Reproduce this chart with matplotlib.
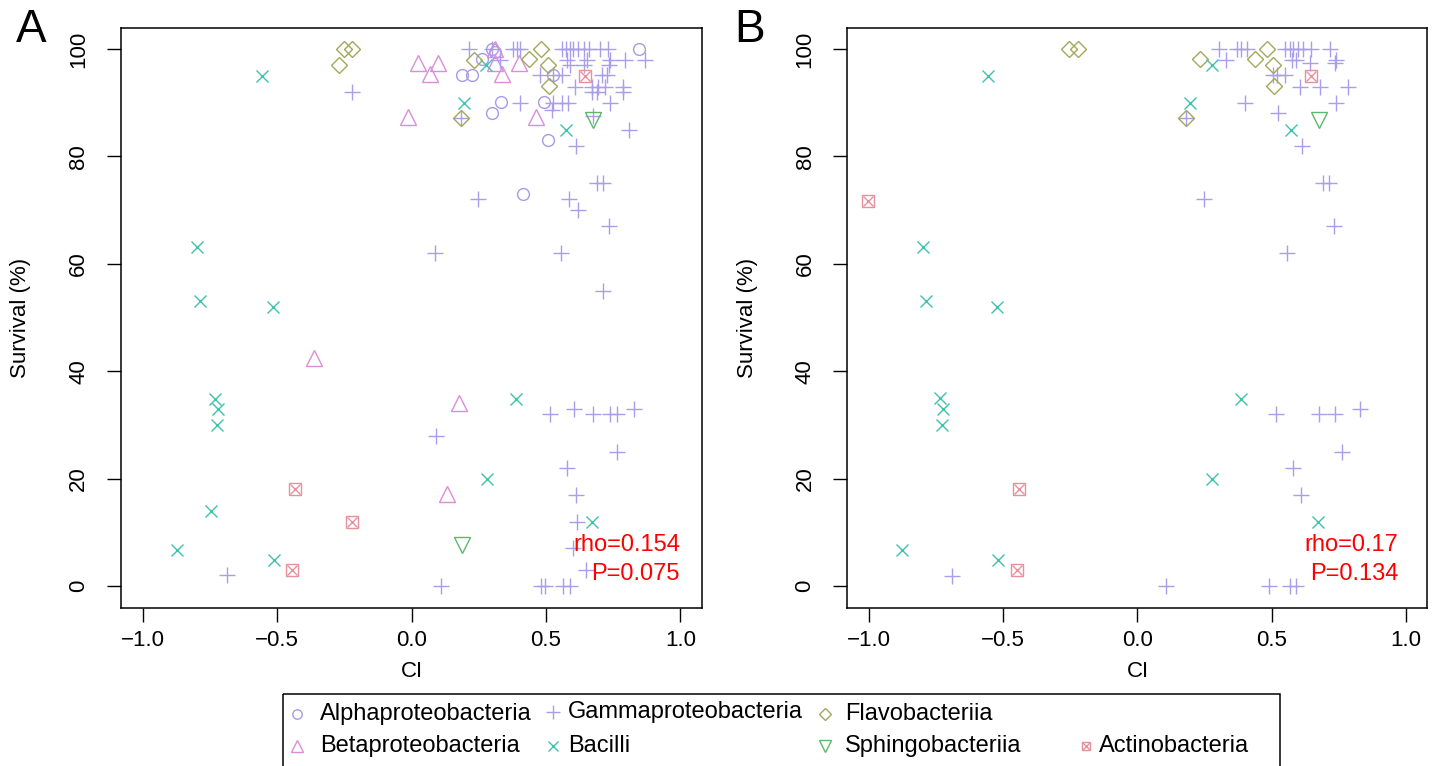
import matplotlib
matplotlib.use("Agg")
import matplotlib.pyplot as plt
from matplotlib.patches import Rectangle

# ======================================================
# data
# ======================================================
# panel A
a_alpha_x = [0.846, 0.30, 0.31, 0.263, 0.187, 0.224, 0.332, 0.30, 0.493, 0.506, 0.527, 0.416]
a_alpha_y = [100, 100, 99.5, 98.1, 95.2, 95.2, 90.2, 88.1, 90.2, 83.0, 95.2, 73.0]

a_beta_x = [0.025, 0.097, 0.069, 0.31, 0.31, 0.335, 0.40, -0.012, 0.463, -0.364, 0.177, 0.131]
a_beta_y = [97.3, 97.3, 95.3, 100, 97.3, 95.3, 97.3, 87.3, 87.3, 42.4, 34.1, 17.2]

a_gamma_x = [0.215, 0.30, 0.376, 0.393, 0.405, 0.56, 0.575, 0.59, 0.60, 0.62, 0.64, 0.66, 0.70, 0.73,
             0.33, 0.577, 0.651, 0.738, 0.794, 0.868,
             0.59, 0.64, 0.735,
             0.478, 0.527, 0.558, 0.707, 0.726,
             0.608, 0.670, 0.694, 0.719, 0.787,
             0.670, 0.688, 0.787, -0.221,
             0.403, 0.527, 0.558, 0.583, 0.738,
             0.521, 0.81, 0.612, 0.183, 0.676,
             0.688, 0.711, 0.246, 0.587, 0.62, 0.733, 0.087, 0.555, 0.713,
             0.605, 0.827, 0.515, 0.676, 0.738, 0.763, 0.091, 0.763, 0.579, 0.610,
             0.614, 0.599, 0.649, 0.108, 0.481, 0.496, 0.562, 0.589, -0.687]
a_gamma_y = [100, 100, 100, 100, 100, 100, 100, 100, 100, 100, 100, 100, 100, 100,
             98, 98, 98, 98, 98, 98,
             97, 97, 97,
             95.2, 95.2, 95.2, 95.2, 95.2,
             93, 93, 93, 93, 93,
             92, 92, 92, 92,
             90, 90, 90, 90, 90,
             88.6, 85, 82, 87.2, 87.5,
             75, 75, 72, 72, 70, 67, 62, 62, 55,
             33, 33, 32, 32, 32, 32, 28, 25, 22, 17,
             12, 7, 3, 0, 0, 0, 0, 0, 2]

a_bacilli_x = [-0.555, 0.277, 0.195, 0.573, -0.799, -0.786, -0.516, -0.730, -0.721, -0.722,
               0.387, 0.28, -0.745, 0.672, -0.873, -0.511]
a_bacilli_y = [95, 97.1, 90, 85, 63.1, 53, 52, 34.9, 32.9, 29.9, 34.9, 19.9, 13.9, 11.9, 6.8, 4.9]

a_flavo_x = [-0.25, -0.22, -0.268, 0.233, 0.438, 0.483, 0.506, 0.511, 0.183]
a_flavo_y = [100, 100, 97.1, 97.9, 98.1, 100, 97.1, 93.1, 87.2]

a_sphingo_x = [0.676, 0.189]
a_sphingo_y = [86.8, 7.7]

a_actino_x = [0.645, -0.433, -0.222, -0.443]
a_actino_y = [95, 18, 11.9, 2.9]

# panel B
b_gamma_x = [0.304, 0.369, 0.387, 0.406, 0.549, 0.567, 0.580, 0.598, 0.617, 0.648, 0.716,
             0.329, 0.574, 0.592, 0.741, 0.642, 0.735,
             0.505, 0.518, 0.549, 0.604, 0.679, 0.784, 0.402, 0.739, 0.524, 0.182, 0.611,
             0.246, 0.689, 0.714, 0.732, 0.555,
             0.514, 0.675, 0.735, 0.828, 0.763, 0.58, 0.609, 0.108, 0.489, 0.567, 0.592, -0.69]
b_gamma_y = [100, 100, 100, 100, 100, 100, 100, 100, 100, 100, 100,
             98, 98, 98, 98, 97.3, 97.3,
             95.2, 95.2, 95.2, 93, 93, 93, 90, 90, 88, 87.2, 82,
             72, 75, 75, 67, 62,
             32, 32, 32, 33, 25, 22, 17, 0, 0, 0, 0, 1.8]

b_bacilli_x = [-0.556, 0.279, 0.195, 0.571, -0.80, -0.788, -0.524, -0.736, -0.725, -0.729,
               0.387, 0.278, 0.673, -0.878, -0.52]
b_bacilli_y = [95, 97.1, 90, 85, 63.1, 53, 52, 35, 33, 30, 34.9, 19.9, 11.9, 6.8, 4.9]

b_flavo_x = [-0.255, -0.221, 0.232, 0.437, 0.483, 0.505, 0.509, 0.182]
b_flavo_y = [100, 100, 98.1, 98.1, 100, 97.1, 93.1, 87.2]

b_sphingo_x = [0.675]
b_sphingo_y = [86.8]

b_actino_x = [0.645, -1.004, -0.44, -0.45]
b_actino_y = [95, 71.7, 18, 2.9]

stats_a = ["rho=0.154", "P=0.075"]
stats_b = ["rho=0.17", "P=0.134"]

classes = ["Alphaproteobacteria", "Betaproteobacteria", "Gammaproteobacteria", "Bacilli",
           "Flavobacteriia", "Sphingobacteriia", "Actinobacteria"]

# ======================================================
# styles
# ======================================================
styles = {
    "Alphaproteobacteria": dict(marker="o", color="#A59BE6", ms=8.5),
    "Betaproteobacteria": dict(marker="^", color="#DA8ED8", ms=11),
    "Gammaproteobacteria": dict(marker="+", color="#A99EEA", ms=12),
    "Bacilli": dict(marker="x", color="#3CC3AE", ms=8.5),
    "Flavobacteriia": dict(marker="D", color="#A3A85A", ms=8),
    "Sphingobacteriia": dict(marker="v", color="#5CB86A", ms=11),
    "Actinobacteria": dict(marker="s", color="#E8909E", ms=8),
}

plt.rcParams['font.family'] = ['Liberation Sans', 'DejaVu Sans']
W, H = 1437, 766
fig = plt.figure(figsize=(W / 100, H / 100), dpi=100)


def draw_points(ax, name, xs, ys, size=None):
    st = styles[name]
    ms = size if size else st["ms"]
    ax.plot(xs, ys, linestyle="none", marker=st["marker"], ms=ms, mew=1.0,
            mec=st["color"], mfc="none", clip_on=False)
    if name == "Actinobacteria":  # box with a cross
        ax.plot(xs, ys, linestyle="none", marker="x", ms=ms * 0.95, mew=1.0,
                mec=st["color"], clip_on=False)


def setup_axes(ax, stats, stat_x):
    ax.set_xlim(-1.08, 1.08)
    ax.set_ylim(-4, 104)
    ax.set_xticks([-1.0, -0.5, 0.0, 0.5, 1.0])
    ax.set_xticklabels(["\u22121.0", "\u22120.5", "0.0", "0.5", "1.0"])
    ax.set_yticks([0, 20, 40, 60, 80, 100])
    ax.set_yticklabels(["0", "20", "40", "60", "80", "100"], rotation=90, va="center")
    ax.tick_params(direction="out", length=10, width=1, labelsize=16, pad=6)
    ax.tick_params(axis="y", pad=13)
    for s in ax.spines.values():
        s.set_linewidth(1.1)
    ax.set_xlabel("CI", fontsize=16, va="center")
    ax.xaxis.set_label_coords(0.5, -0.11)
    ax.set_ylabel("Survival (%)", fontsize=16, va="center")
    ax.yaxis.set_label_coords(-0.173, 0.5)
    ax.text(stat_x, 0.108, stats[0], transform=ax.transAxes, ha="right", va="center",
            color="red", fontsize=17)
    ax.text(stat_x, 0.058, stats[1], transform=ax.transAxes, ha="right", va="center",
            color="red", fontsize=17)


# ======================================================
# panel A
# ======================================================
axA = fig.add_axes([121 / W, 1 - 607.5 / H, 581 / W, 580 / H])
draw_points(axA, "Alphaproteobacteria", a_alpha_x, a_alpha_y)
draw_points(axA, "Betaproteobacteria", a_beta_x, a_beta_y)
draw_points(axA, "Gammaproteobacteria", a_gamma_x, a_gamma_y)
draw_points(axA, "Bacilli", a_bacilli_x, a_bacilli_y)
draw_points(axA, "Flavobacteriia", a_flavo_x, a_flavo_y)
draw_points(axA, "Sphingobacteriia", a_sphingo_x, a_sphingo_y)
draw_points(axA, "Actinobacteria", a_actino_x, a_actino_y)
setup_axes(axA, stats_a, 0.962)

# ======================================================
# panel B
# ======================================================
axB = fig.add_axes([847.5 / W, 1 - 607.5 / H, 580 / W, 580 / H])
draw_points(axB, "Gammaproteobacteria", b_gamma_x, b_gamma_y)
draw_points(axB, "Bacilli", b_bacilli_x, b_bacilli_y)
draw_points(axB, "Flavobacteriia", b_flavo_x, b_flavo_y)
draw_points(axB, "Sphingobacteriia", b_sphingo_x, b_sphingo_y)
draw_points(axB, "Actinobacteria", b_actino_x, b_actino_y)
setup_axes(axB, stats_b, 0.95)

fig.text(31 / W, 1 - 30 / H, "A", fontsize=33, ha="center", va="center")
fig.text(750 / W, 1 - 30 / H, "B", fontsize=33, ha="center", va="center")

# ======================================================
# legend (drawn by hand to copy the R layout)
# ======================================================
lax = fig.add_axes([0, 0, 1, 1])
lax.set_xlim(0, W)
lax.set_ylim(H, 0)
lax.axis("off")
lax.add_patch(Rectangle((283, 694), 997, 90, fill=False, edgecolor="black", linewidth=1.1))
leg_marker_x = [297, 297, 553, 553, 825, 825, 1086]
leg_text_x = [320, 320, 568, 568, 845, 845, 1099]
leg_y = [714, 746, 712, 746, 714, 746, 746]
for name, mx, tx, yy in zip(classes, leg_marker_x, leg_text_x, leg_y):
    draw_points(lax, name, [mx], [yy], size=styles[name]["ms"] * 0.8)
    lax.text(tx, yy, name, fontsize=17, ha="left", va="center")

fig.savefig("out.png", dpi=100)
